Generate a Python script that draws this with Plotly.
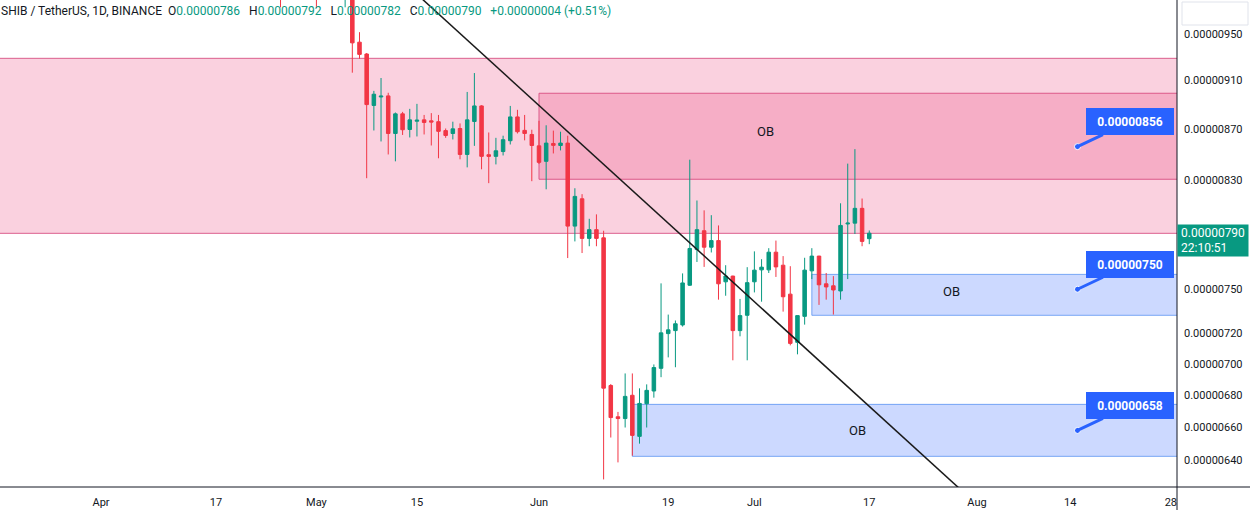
import math
import pandas as pd
import plotly.graph_objects as go

SCALE = 1e-8  # all prices below are in units of 0.00000001 USDT

# candles partly visible at the very top (only the lower wick tips show)
EARLY_DATES = ["2023-04-26", "2023-05-01", "2023-05-05"]
EARLY_OPEN = [1000, 1010, 990]
EARLY_HIGH = [1020, 1020, 1010]
EARLY_LOW = [974.0, 973.4, 974.0]
EARLY_CLOSE = [990, 995, 1000]

# daily candles 2023-05-06 .. 2023-07-17
MAIN_START = "2023-05-06"
MAIN_END = "2023-07-17"
OPEN = [1000, 943.0, 932.7, 889.3, 896.3, 897.2, 866.5, 882.4, 869.7, 876.4,
        877.5, 876.7, 876.0, 868.8, 866.5, 870.5, 849.8, 876.2, 888.9, 849.6,
        848.3, 852.1, 860.7, 879.9, 869.0, 865.7, 856.6, 844.4, 858.5, 856.9,
        858.8, 795.2, 815.6, 786.2, 792.6, 786.6, 686.0, 666.4, 665.3, 679.8,
        654.4, 674.5, 682.5, 697.0, 719.8, 721.8, 725.6, 752.8, 778.1, 791.8,
        779.8, 784.6, 755.2, 759.2, 721.8, 732.1, 755.2, 763.6, 763.6, 776.2,
        766.9, 746.6, 714.0, 731.4, 762.9, 773.4, 753.8, 752.4, 748.8, 796.8,
        797.4, 808.4, 786]
HIGH = [1005, 951.8, 933.6, 901.4, 912.2, 899.8, 883.5, 884.0, 886.5, 890.6,
        881.5, 883.0, 881.5, 870.5, 876.0, 874.6, 900.5, 916.4, 889.5, 867.3,
        863.0, 864.7, 888.9, 885.7, 881.5, 869.5, 876.7, 873.1, 868.8, 867.9,
        864.7, 823.6, 819.1, 800.6, 803.9, 791.8, 686.9, 669.4, 693.7, 693.7,
        684.2, 686.7, 699.5, 754.1, 732.6, 728.6, 761.1, 845.7, 814.3, 806.9,
        803.3, 795.7, 766.9, 759.5, 743.3, 765.5, 776.8, 771.2, 779.1, 784.6,
        773.4, 766.2, 732.0, 772.2, 779.1, 773.6, 761.4, 759.2, 812.2, 842.6,
        854.0, 815.8, 792]
LOW = [916.7, 928.6, 831.3, 868.9, 860.1, 849.8, 844.4, 865.3, 863.3, 864.1,
       865.7, 856.9, 846.8, 863.0, 861.7, 846.0, 839.7, 856.6, 838.2, 827.5,
       842.0, 849.0, 857.7, 866.5, 861.0, 829.0, 842.3, 822.8, 850.6, 853.0,
       772.0, 784.0, 775.6, 780.5, 780.5, 628.8, 653.7, 638.8, 659.8, 642.8,
       650.0, 659.8, 678.3, 691.3, 704.1, 697.7, 724.5, 752.3, 769.2, 765.7,
       776.0, 742.8, 745.5, 702.2, 718.0, 702.2, 747.8, 741.4, 761.4, 758.6,
       734.6, 712.0, 706.1, 725.8, 757.1, 739.2, 742.8, 732.6, 742.8, 757.1,
       789.4, 780.5, 782]
CLOSE = [942.4, 932.4, 890.0, 898.6, 897.0, 866.5, 882.4, 869.5, 877.5, 877.2,
         875.4, 875.7, 868.2, 864.9, 870.2, 849.8, 877.5, 888.9, 848.3, 848.3,
         852.7, 861.5, 879.9, 867.9, 866.5, 856.9, 843.6, 858.8, 857.0, 858.8,
         795.2, 817.4, 786.2, 792.6, 786.2, 684.3, 665.9, 665.3, 679.1, 655.0,
         674.7, 682.9, 697.5, 720.3, 722.3, 726.4, 754.4, 778.9, 792.6, 779.8,
         784.6, 753.8, 759.2, 721.8, 731.9, 754.6, 763.4, 765.5, 776.2, 765.7,
         744.8, 713.3, 731.9, 763.4, 773.4, 753.1, 751.6, 749.5, 795.7, 797.4,
         808.4, 784.0, 790]

# zones (rectangles): start date, top and bottom price
ZONE_START = ["2023-03-01", "2023-06-01", "2023-07-09", "2023-06-14"]
ZONE_END = "2023-09-30"
ZONE_TOP = [929.0, 899.4, 760.4, 674.1]
ZONE_BOTTOM = [789.9, 830.5, 732.1, 642.4]
ZONE_LABEL = ["", "OB", "OB", "OB"]

# trend line endpoints
TREND_DATES = ["2023-05-10", "2023-07-31"]
TREND_PRICES = [1016.2, 618.1]

# price callouts
CALLOUT_DATE = "2023-08-15"
CALLOUT_PRICES = [856, 750, 658]

X_TICKS = ["2023-04-01", "2023-04-17", "2023-05-01", "2023-05-15", "2023-06-01",
           "2023-06-19", "2023-07-01", "2023-07-17", "2023-08-01", "2023-08-14",
           "2023-08-28"]
X_TICK_TEXT = ["Apr", "17", "May", "15", "Jun", "19", "Jul", "17", "Aug", "14", "28"]
Y_TICKS = [950, 910, 870, 830, 750, 720, 700, 680, 660, 640]
Y_RANGE = [624.4, 980.6]
COUNTDOWN = "22:10:51"

UP = "#089981"
DOWN = "#F23645"
TEXT = "#131722"
BLUE = "#2962FF"
FONT = "Roboto, Arial, sans-serif"


def fmt(v):
    return f"{v * SCALE:.8f}"


dates = list(pd.to_datetime(EARLY_DATES)) + list(pd.date_range(MAIN_START, MAIN_END, freq="D"))
o = [v * SCALE for v in EARLY_OPEN + OPEN]
h = [v * SCALE for v in EARLY_HIGH + HIGH]
l = [v * SCALE for v in EARLY_LOW + LOW]
c = [v * SCALE for v in EARLY_CLOSE + CLOSE]

fig = go.Figure()
fig.add_trace(go.Candlestick(
    x=dates, open=o, high=h, low=l, close=c,
    increasing=dict(line=dict(color=UP, width=1), fillcolor=UP),
    decreasing=dict(line=dict(color=DOWN, width=1), fillcolor=DOWN),
    whiskerwidth=0, hoverinfo="skip", showlegend=False,
))

zone_fill = ["rgba(236,64,122,0.24)", "rgba(236,64,122,0.24)",
             "rgba(41,98,255,0.24)", "rgba(41,98,255,0.24)"]
zone_line = ["rgba(214,72,124,0.85)", "rgba(214,72,124,0.85)",
             "rgba(80,140,240,0.75)", "rgba(80,140,240,0.75)"]
label_x = [None, "2023-07-02 11:30", "2023-07-28 09:30", "2023-07-15 10:00"]
label_shift = [0, 5, 3, 0]
for i in range(len(ZONE_START)):
    fig.add_shape(type="rect", xref="x", yref="y",
                  x0=ZONE_START[i], x1=ZONE_END,
                  y0=ZONE_BOTTOM[i] * SCALE, y1=ZONE_TOP[i] * SCALE,
                  fillcolor=zone_fill[i], line=dict(color=zone_line[i], width=1),
                  layer="below")
    if ZONE_LABEL[i]:
        mid = (math.log10(ZONE_TOP[i] * SCALE) + math.log10(ZONE_BOTTOM[i] * SCALE)) / 2
        fig.add_annotation(x=label_x[i], y=mid, xref="x", yref="y", yshift=label_shift[i],
                           text=ZONE_LABEL[i], showarrow=False,
                           font=dict(family=FONT, size=13, color=TEXT))

fig.add_shape(type="line", xref="x", yref="y",
              x0=TREND_DATES[0], y0=TREND_PRICES[0] * SCALE,
              x1=TREND_DATES[1], y1=TREND_PRICES[1] * SCALE,
              line=dict(color="#1a1a1a", width=1.5), layer="above")

fig.add_trace(go.Scatter(
    x=[CALLOUT_DATE] * len(CALLOUT_PRICES), y=[p * SCALE for p in CALLOUT_PRICES],
    mode="markers", marker=dict(color=BLUE, size=6, line=dict(color="white", width=1)),
    hoverinfo="skip", showlegend=False, cliponaxis=False,
))
for p in CALLOUT_PRICES:
    fig.add_annotation(x=CALLOUT_DATE, y=math.log10(p * SCALE), xref="x", yref="y",
                       text=f"<b>{fmt(p)}</b>", showarrow=True, arrowhead=0,
                       arrowwidth=3, arrowcolor=BLUE, ax=53, ay=-25, standoff=0,
                       bgcolor=BLUE, bordercolor=BLUE, borderwidth=1, borderpad=5,
                       width=76, height=15,
                       font=dict(family=FONT, size=12, color="white"))

# header
last_o, last_h, last_l, last_c = OPEN[-1], HIGH[-1], LOW[-1], CLOSE[-1]
chg = last_c - last_o
pct = chg / last_o * 100
sp = "\u00a0\u00a0"
gap = "\u00a0\u00a0\u00a0"
g = lambda s: f"<span style='color:{UP}'>{s}</span>"
header = (f"SHIB / TetherUS, 1D, BINANCE{sp}O{g(fmt(last_o))}{gap}H{g(fmt(last_h))}"
          f"{gap}L{g(fmt(last_l))}{gap}C{g(fmt(last_c))}{gap}"
          f"{g('+' + fmt(chg) + ' (+' + format(pct, '.2f') + '%)')}")
fig.add_annotation(x=0, y=1, xref="paper", yref="paper", xanchor="left", yanchor="top",
                   text=header, showarrow=False, xshift=-1, yshift=-2,
                   font=dict(family=FONT, size=12, color=TEXT))

# current price label
fig.add_annotation(x=1, y=math.log10(last_c * SCALE), xref="paper", yref="y",
                   xanchor="left", yanchor="middle", yshift=-7, align="left",
                   text=f"{fmt(last_c)}<br>{COUNTDOWN}", showarrow=False,
                   bgcolor=UP, borderpad=3, width=64, height=25,
                   font=dict(family=FONT, size=12, color="white"))

# axis frame lines
fig.add_shape(type="line", xref="paper", yref="paper", x0=0, x1=1250 / 1177, y0=0, y1=0,
              line=dict(color=TEXT, width=1))
fig.add_shape(type="line", xref="paper", yref="paper", x0=1, x1=1, y0=-23 / 487, y1=1,
              line=dict(color=TEXT, width=1))
fig.add_shape(type="rect", xref="paper", yref="paper",
              x0=1182 / 1177, x1=1248 / 1177, y0=1 - 25 / 487, y1=1 - 2 / 487,
              line=dict(color="#E0E3EB", width=1), fillcolor="white")

x0 = pd.Timestamp("2023-04-01") - pd.Timedelta(days=14.07)
x1 = pd.Timestamp("2023-04-01") + pd.Timedelta(days=149.86)

fig.update_layout(
    width=1250, height=510,
    margin=dict(l=0, r=73, t=0, b=23, autoexpand=False),
    paper_bgcolor="white", plot_bgcolor="white",
    font=dict(family=FONT, color=TEXT),
    showlegend=False,
    xaxis=dict(type="date", range=[x0, x1], rangeslider=dict(visible=False),
               showgrid=False, zeroline=False, showline=False, ticks="",
               tickvals=X_TICKS, ticktext=X_TICK_TEXT, ticklabelstandoff=7,
               tickfont=dict(family=FONT, size=11, color=TEXT), fixedrange=True),
    yaxis=dict(type="log", side="right",
               range=[math.log10(Y_RANGE[0] * SCALE), math.log10(Y_RANGE[1] * SCALE)],
               showgrid=False, zeroline=False, showline=False, ticks="",
               tickvals=[v * SCALE for v in Y_TICKS], ticktext=[fmt(v) for v in Y_TICKS],
               tickfont=dict(family=FONT, size=11, color=TEXT), ticklabelstandoff=6,
               fixedrange=True),
)

fig.write_html("out.html", config={"displayModeBar": False})
